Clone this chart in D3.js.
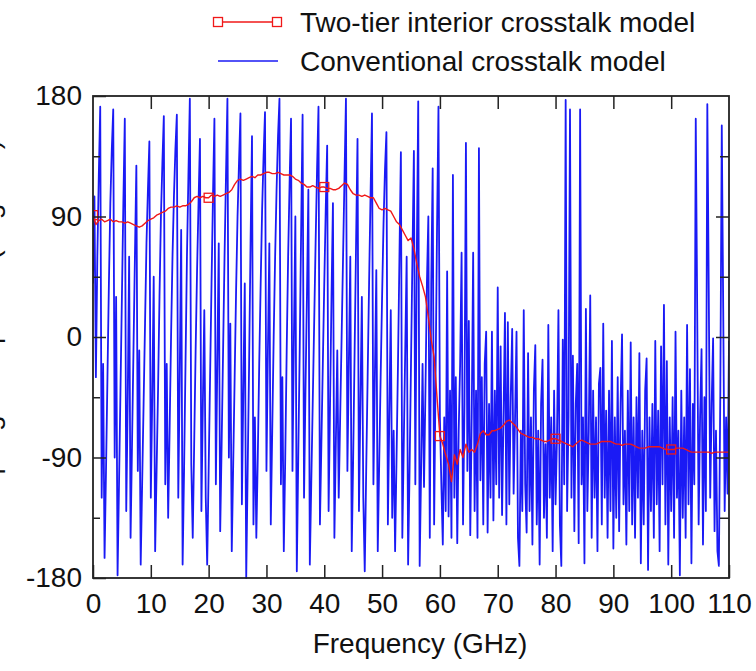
<!DOCTYPE html>
<html>
<head>
<meta charset="utf-8">
<script src="https://cdn.jsdelivr.net/npm/d3@7"></script>
<style>
  html, body { margin: 0; padding: 0; background: #fff; }
  svg { display: block; }
  text { font-family: "Liberation Sans", Arial, sans-serif; fill: #111; }
</style>
</head>
<body>
<svg id="chart" width="756" height="671"></svg>
<script>
// ---------------- data ----------------
const xTicks = [0, 10, 20, 30, 40, 50, 60, 70, 80, 90, 100, 110];
const yTicks = [-180, -90, 0, 90, 180];
const yMinorTicks = [-135, -45, 45, 135];
const xLabel = "Frequency (GHz)";
const yLabel = "Coupling term phase (degrees)";
const seriesNames = ["Two-tier interior crosstalk model", "Conventional crosstalk model"];

// Conventional model: wrapped phase (degrees), one value every 0.25 GHz
const convStep = 0.25;
// 0 - 59.75 GHz (one row per GHz)
const convPhaseLow = [
  40, 105, -30, 60,
  120, 172, -120, -20,
  -165, -100, -30, 40,
  100, 140, 170, -90,
  30, -178, -110, -40,
  30, 100, 163, -130,
  -50, 60, -150, -80,
  -10, 60, 128, -100,
  -10, -170, -110, -50,
  10, 70, 110, 146,
  -120, -45, 45, -160,
  -100, -40, 30, 90,
  130, 165, -110, -20,
  -135, -70, 0, 60,
  105, 140, 166, -120,
  -30, 80, -170, -100,
  -20, 60, 120, 178,
  -95, -150, -80, -10,
  50, 100, 148, -130,
  -50, 20, -120, -170,
  -100, -30, 40, 105,
  163, -110, -20, 70,
  -145, -80, -10, 60,
  120, 178, -90, 10,
  -160, -95, -30, 35,
  90, 130, 167, -125,
  -40, 40, -180, -100,
  -20, 70, 150, -140,
  -60, -150, -90, -20,
  40, 95, 135, 168,
  -100, -10, 70, -140,
  -70, 0, 60, 110,
  150, 178, -110, -30,
  -160, -90, -10, 60,
  115, 163, -100, 0,
  90, -175, -90, -10,
  80, 166, -120, -40,
  30, 110, -170, -110,
  -50, 10, 70, 125,
  172, -140, -80, -20,
  40, 95, 143, -130,
  -50, 30, 100, -150,
  -80, -10, -120, -60,
  0, 60, 120, 178,
  -100, -20, 60, -160,
  -90, -10, 70, 148,
  -130, -50, 30, -120,
  -175, -100, -30, 40,
  105, 167, -110, -30,
  50, -160, -95, -30,
  30, 85, 125, 153,
  -140, -60, 20, -135,
  -70, -160, -90, -20,
  60, 138, -150, -80,
  -10, 60, -170, -100,
  -20, 60, 139, -110,
  60, 176, -171, -100,
  -20, -112, -40, 40,
  90, -150, 40, 126,
  -140, -30, 80, 172
];
// 60 - 110 GHz (first value at 60.0, then one row per GHz: .25 .5 .75 next whole)
const convPhaseHigh = [
  -60,
  -110, -155, -60, -130,
  49, -134, -40, -150,
  121, -120, -30, -154,
  -70, -20, 63, -140,
  -50, 145, -100, 12,
  -148, -60, 63, -130,
  -40, -150, 141, -107,
  -30, -140, -20, 4,
  -146, -50, -120, 4,
  -137, -40, -110, 37,
  -120, -7, -133, -60,
  18, -140, 11, -125,
  -45, 6, -117, -60,
  4, -150, -171, -70,
  -130, 20, -110, -146,
  -12, -130, -60, -155,
  -40, -6, -140, -70,
  -170, -50, -17, -135,
  -80, -150, 9, -120,
  -60, -160, -40, -125,
  -75, 20, -140, -171,
  -2, -110, 177, -130,
  -60, 170, -120, -14,
  -145, -50, -20, -154,
  170, -110, -60, -169,
  21, -130, -70, 31,
  -150, -40, -120, -60,
  -160, -35, -23, -140,
  10, -120, -55, -150,
  -40, -130, -3, -158,
  -60, -135, -30, -145,
  -50, 2, -125, -70,
  -155, -40, -130, -4,
  -140, -60, -150, -45,
  -120, -12, -169, -70,
  -140, -40, -16, -174,
  -60, -130, -50, -150,
  -3, -125, -55, -160,
  -7, -110, 24, -140,
  -18, -170, -60, -130,
  -45, -150, 4, -120,
  -70, -178, -40, -135,
  -60, -150, 9, -125,
  -24, -169, -50, -110,
  163, 21, -140, -60,
  -9, -155, -45, -130,
  174, 34, -120, -50,
  -1, -145, -70, -160,
  -171, -40, 158, 21,
  -130, -60, -117, -3
];

// Two-tier model, 0 - 110 GHz, one value every 0.5 GHz
const twoTierStep = 0.5;
const twoTierPhase = [
  91, 84, 87, 88, 86, 87, 88, 86, 87, 86,
  86, 85, 86, 85, 84, 83, 82, 83, 85, 87,
  88, 89, 91, 92, 93, 94, 96, 97, 97, 98,
  97, 98, 98, 99, 101, 104, 105, 104, 105, 104,
  104, 106, 105, 106, 105, 106, 107, 108, 110, 114,
  117, 118, 117, 118, 119, 120, 119, 121, 121, 122,
  123, 123, 122, 122, 123, 122, 121, 121, 121, 120,
  118, 117, 115, 114, 112, 112, 113, 112, 111, 112,
  112, 111, 111, 110, 110, 111, 113, 115, 114, 110,
  107, 106, 106, 105, 106, 105, 104, 104, 100, 96,
  95, 96, 95, 94, 90, 86, 84, 80, 76, 72,
  74, 66, 55, 45, 38, 30, 15, -2, -15, -45,
  -74, -80, -88, -95, -108, -88, -95, -84, -90, -80,
  -86, -84, -86, -80, -72, -70, -73, -73, -70, -70,
  -69, -68, -66, -63, -62, -64, -66, -69, -72, -73,
  -74, -75, -75, -76, -76, -77, -78, -78, -77, -76,
  -76, -77, -78, -79, -80, -81, -82, -80, -78, -77,
  -78, -79, -80, -80, -80, -79, -78, -78, -78, -78,
  -79, -80, -80, -81, -80, -80, -80, -81, -82, -83,
  -83, -83, -82, -82, -82, -82, -82, -83, -84, -84,
  -84, -84, -83, -83, -83, -84, -85, -86, -86, -86,
  -86, -86, -86, -86, -87, -86, -86, -86, -86, -86,
  -86
];
const markerFreqs = [0, 20, 40, 60, 80, 100];

// ---------------- build tables ----------------
const conv = convPhaseLow.concat(convPhaseHigh).map((p, i) => ({ f: i * convStep, p }));
const twoTier = twoTierPhase.map((p, i) => ({ f: i * twoTierStep, p }));
const markers = twoTier.filter(d => markerFreqs.includes(d.f));

// ---------------- layout ----------------
const svg = d3.select("#chart");
const L = 93, R = 729, T = 96, B = 578;
const x = d3.scaleLinear().domain([0, 110]).range([L, R]);
const y = d3.scaleLinear().domain([-180, 180]).range([B, T]);

const defs = svg.append("defs");
defs.append("clipPath").attr("id", "plotclip")
  .append("rect").attr("x", L).attr("y", T - 1).attr("width", R - L).attr("height", B - T + 2);

const plot = svg.append("g").attr("clip-path", "url(#plotclip)");

const line = d3.line().x(d => x(d.f)).y(d => y(d.p));

plot.append("path").datum(conv)
  .attr("d", line)
  .attr("fill", "none")
  .attr("stroke", "#1a1af5")
  .attr("stroke-width", 1.8)
  .attr("stroke-linejoin", "round");

plot.append("path").datum(twoTier)
  .attr("d", line)
  .attr("fill", "none")
  .attr("stroke", "#f01818")
  .attr("stroke-width", 1.4)
  .attr("stroke-linejoin", "round");

const ms = 9;
plot.selectAll("rect.mk").data(markers).enter().append("rect")
  .attr("class", "mk")
  .attr("x", d => x(d.f) - ms / 2)
  .attr("y", d => y(d.p) - ms / 2)
  .attr("width", ms).attr("height", ms)
  .attr("fill", "none")
  .attr("stroke", "#f01818")
  .attr("stroke-width", 1.3);

// ---------------- axes ----------------
const axisColor = "#222";
const fmt = d => String(d);
function styleAxis(g) {
  g.select(".domain").remove();
  g.selectAll(".tick line").attr("stroke", axisColor).attr("stroke-width", 1.5);
  g.selectAll(".tick text").style("font-size", "28px").attr("fill", "#111");
}

svg.append("g").attr("transform", `translate(0,${B})`)
  .call(d3.axisBottom(x).tickValues(xTicks).tickSize(-13).tickPadding(15).tickFormat(fmt))
  .call(styleAxis);
svg.append("g").attr("transform", `translate(0,${T})`)
  .call(d3.axisTop(x).tickValues(xTicks.slice(1, -1)).tickSize(-13).tickFormat(""))
  .call(styleAxis);
svg.append("g").attr("transform", `translate(${L},0)`)
  .call(d3.axisLeft(y).tickValues(yTicks).tickSize(-13).tickPadding(11).tickFormat(fmt))
  .call(styleAxis);
svg.append("g").attr("transform", `translate(${L},0)`)
  .call(d3.axisLeft(y).tickValues(yMinorTicks).tickSize(-7).tickFormat(""))
  .call(styleAxis);
svg.append("g").attr("transform", `translate(${R},0)`)
  .call(d3.axisRight(y).tickValues(yTicks.slice(1, -1)).tickSize(-13).tickFormat(""))
  .call(styleAxis);
svg.append("g").attr("transform", `translate(${R},0)`)
  .call(d3.axisRight(y).tickValues(yMinorTicks).tickSize(-9).tickFormat(""))
  .call(styleAxis);

svg.append("rect")
  .attr("x", L).attr("y", T).attr("width", R - L).attr("height", B - T)
  .attr("fill", "none").attr("stroke", axisColor).attr("stroke-width", 1.8);

// axis titles
svg.append("text")
  .attr("x", 420).attr("y", 653)
  .attr("text-anchor", "middle")
  .style("font-size", "28px")
  .text(xLabel);

svg.append("text")
  .attr("transform", "translate(-1,333) rotate(-90)")
  .attr("text-anchor", "middle")
  .style("font-size", "28px")
  .text(yLabel);

// ---------------- legend ----------------
const lg = svg.append("g");
const lx0 = 218, lx1 = 277;
lg.append("line").attr("x1", lx0).attr("x2", lx1).attr("y1", 22).attr("y2", 22)
  .attr("stroke", "#f01818").attr("stroke-width", 1.5);
[lx0, lx1].forEach(cx => lg.append("rect")
  .attr("x", cx - ms / 2).attr("y", 22 - ms / 2).attr("width", ms).attr("height", ms)
  .attr("fill", "#fff").attr("stroke", "#f01818").attr("stroke-width", 1.3));
lg.append("text").attr("x", 300).attr("y", 32).style("font-size", "28px").text(seriesNames[0]);

lg.append("line").attr("x1", lx0).attr("x2", lx1 + 1).attr("y1", 61).attr("y2", 61)
  .attr("stroke", "#1a1af5").attr("stroke-width", 1.5);
lg.append("text").attr("x", 300).attr("y", 71).style("font-size", "28px").text(seriesNames[1]);
</script>
</body>
</html>
